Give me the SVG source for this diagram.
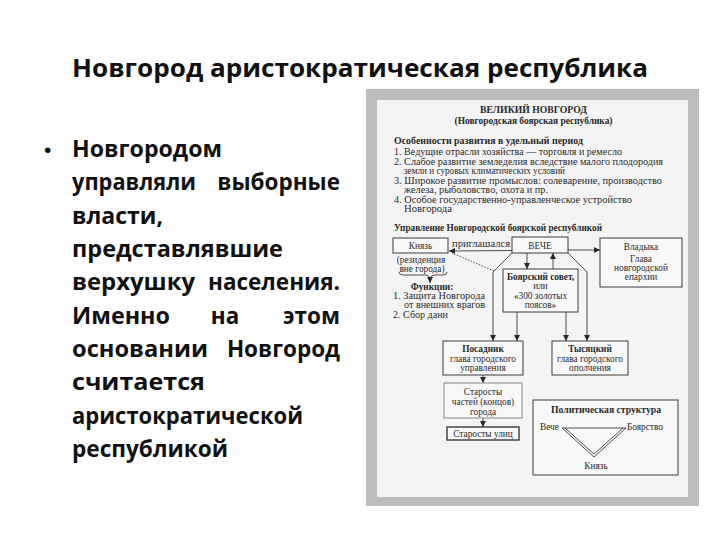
<svg xmlns="http://www.w3.org/2000/svg" width="720" height="540" viewBox="0 0 720 540">
<defs>
<style>
.t{font-family:"Open Sans","Liberation Sans",sans-serif;font-weight:700;fill:#111}
.s{font-family:"Liberation Serif","Times New Roman",serif;font-size:9.3px;fill:#2a2a2a}
.b{font-weight:700}
.m{text-anchor:middle}
.box{fill:#f8f8f8;stroke:#3a3a3a;stroke-width:1}
.ln{fill:none;stroke:#3a3a3a;stroke-width:0.9}
.arr{marker-end:url(#ah)}
</style>
<marker id="ah" markerUnits="userSpaceOnUse" markerWidth="6" markerHeight="6" refX="6" refY="3" orient="auto">
<path d="M0,0 L6,3 L0,6 z" fill="#2a2a2a"/>
</marker>
</defs>
<rect width="720" height="540" fill="#ffffff"/>

<text class="t m" x="360" y="77" font-size="25" textLength="576" lengthAdjust="spacingAndGlyphs">Новгород аристократическая республика</text>

<g id="bullet-text" class="t" font-size="22.5">
<text x="44" y="157" font-family="Liberation Sans" font-weight="400" font-size="21">•</text>
<text x="72" y="157" textLength="150" lengthAdjust="spacingAndGlyphs">Новгородом</text>
<text x="72" y="190" textLength="124" lengthAdjust="spacingAndGlyphs">управляли</text><text x="340" y="190" text-anchor="end">выборные</text>
<text x="72" y="224" textLength="91" lengthAdjust="spacingAndGlyphs">власти,</text>
<text x="72" y="257" textLength="211" lengthAdjust="spacingAndGlyphs">представлявшие</text>
<text x="72" y="290" textLength="123" lengthAdjust="spacingAndGlyphs">верхушку</text><text x="340" y="290" text-anchor="end">населения.</text>
<text x="72" y="324" textLength="98" lengthAdjust="spacingAndGlyphs">Именно</text><text x="225" y="324" text-anchor="middle">на</text><text x="340" y="324" text-anchor="end">этом</text>
<text x="72" y="357" textLength="136" lengthAdjust="spacingAndGlyphs">основании</text><text x="340" y="357" text-anchor="end">Новгород</text>
<text x="72" y="390" textLength="133" lengthAdjust="spacingAndGlyphs">считается</text>
<text x="72" y="424" textLength="231" lengthAdjust="spacingAndGlyphs">аристократической</text>
<text x="72" y="457" textLength="156" lengthAdjust="spacingAndGlyphs">республикой</text>
</g>

<g id="panel">
<rect x="366" y="89" width="333" height="417" fill="#bdbdbd"/>
<rect x="377" y="100" width="311" height="397" fill="#f4f4f4"/>
</g>

<g id="header">
<text class="s b m" x="533.5" y="113" textLength="107" lengthAdjust="spacingAndGlyphs">ВЕЛИКИЙ НОВГОРОД</text>
<text class="s b m" x="533.5" y="124" textLength="158" lengthAdjust="spacingAndGlyphs">(Новгородская боярская республика)</text>
<text class="s b" x="394" y="144" textLength="189" lengthAdjust="spacingAndGlyphs">Особенности развития в удельный период</text>
<text class="s" x="394" y="155" textLength="228" lengthAdjust="spacingAndGlyphs">1. Ведущие отрасли хозяйства — торговля и ремесло</text>
<text class="s" x="394" y="164.5" textLength="269" lengthAdjust="spacingAndGlyphs">2. Слабое развитие земледелия вследствие малого плодородия</text>
<text class="s" x="404" y="174" textLength="161" lengthAdjust="spacingAndGlyphs">земли и суровых климатических условий</text>
<text class="s" x="394" y="183.5" textLength="268" lengthAdjust="spacingAndGlyphs">3. Широкое развитие промыслов: солеварение, производство</text>
<text class="s" x="404" y="193" textLength="144" lengthAdjust="spacingAndGlyphs">железа, рыболовство, охота и пр.</text>
<text class="s" x="394" y="202.5" textLength="238" lengthAdjust="spacingAndGlyphs">4. Особое государственно-управленческое устройство</text>
<text class="s" x="404" y="212" textLength="48" lengthAdjust="spacingAndGlyphs">Новгорода</text>
<text class="s b" x="394" y="231" textLength="208" lengthAdjust="spacingAndGlyphs">Управление Новгородской боярской республикой</text>
</g>

<g id="connectors">
<path class="ln arr" d="M512,250.5 L449,251"/>
<text class="s m" x="481" y="247" font-size="10" textLength="58" lengthAdjust="spacingAndGlyphs">приглашался</text>
<path class="ln" d="M494,271 L452,253" stroke-dasharray="1.5,1.5"/>
<path class="ln arr" d="M568,250 L600,250"/>
<path class="ln arr" d="M512,253 L493,272 L493,341"/>
<path class="ln arr" d="M568,253 L587,272 L587,341"/>
<path class="ln arr" d="M527,253 L527,269"/>
<path class="ln arr" d="M553,269 L553,253"/>
<path class="ln arr" d="M517,312 L517,341"/>
<path class="ln arr" d="M566,312 L566,341"/>
<path class="ln arr" d="M483,375 L483,383"/>
<path class="ln arr" d="M483,418 L483,427"/>
<path class="ln" d="M399,272 q0,3 4,3 h22 q4,0 5,3 q1,-3 5,-3 h8 q4,0 4,-3"/>
<path class="ln arr" d="M430,278 L430,283"/>
</g>

<g id="knyaz">
<rect class="box" x="393" y="238" width="55" height="15"/>
<text class="s m" x="420.5" y="249" font-size="10.5">Князь</text>
<text class="s m" x="421" y="263">(резиденция</text>
<text class="s m" x="422" y="272">вне города)</text>
<text class="s b m" x="432" y="290">Функции:</text>
<text class="s" x="393" y="299" textLength="92" lengthAdjust="spacingAndGlyphs">1. Защита Новгорода</text>
<text class="s" x="404" y="308" textLength="81" lengthAdjust="spacingAndGlyphs">от внешних врагов</text>
<text class="s" x="393" y="318" textLength="55" lengthAdjust="spacingAndGlyphs">2. Сбор дани</text>
</g>

<g id="veche">
<rect class="box" x="512" y="237" width="56" height="16"/>
<text class="s m" x="540" y="249" font-size="11">ВЕЧЕ</text>
</g>

<g id="vladyka">
<rect class="box" x="600" y="238" width="82" height="49"/>
<text class="s m" x="641" y="250" font-size="10.5">Владыка</text>
<text class="s m" x="641" y="262">Глава</text>
<text class="s m" x="641" y="271">новгородской</text>
<text class="s m" x="641" y="280">епархии</text>
</g>

<g id="boyar-council">
<rect class="box" x="503" y="269" width="75" height="43"/>
<text class="s b m" x="540.5" y="280">Боярский совет,</text>
<text class="s m" x="540.5" y="289">или</text>
<text class="s m" x="540.5" y="299">«300 золотых</text>
<text class="s m" x="540.5" y="308">поясов»</text>
</g>

<g id="posadnik">
<rect class="box" x="443" y="341" width="80" height="34"/>
<text class="s b m" x="483" y="352">Посадник</text>
<text class="s m" x="483" y="362">глава городского</text>
<text class="s m" x="483" y="371">управления</text>
</g>

<g id="tysyatsky">
<rect class="box" x="552" y="341" width="76" height="34"/>
<text class="s b m" x="590" y="352">Тысяцкий</text>
<text class="s m" x="590" y="362">глава городского</text>
<text class="s m" x="590" y="371">ополчения</text>
</g>

<g id="starosty-kontsov">
<rect class="box" x="444" y="383" width="78" height="35" style="stroke:#888"/>
<text class="s m" x="483" y="395">Старосты</text>
<text class="s m" x="483" y="405">частей (концов)</text>
<text class="s m" x="483" y="415">города</text>
</g>

<g id="starosty-ulits">
<rect class="box" x="447" y="427" width="72" height="13" style="stroke-width:1.4"/>
<text class="s m" x="483" y="437">Старосты улиц</text>
</g>

<g id="political-structure">
<rect class="box" x="533" y="400" width="145" height="75"/>
<text class="s b m" x="606" y="413" textLength="110" lengthAdjust="spacingAndGlyphs">Политическая структура</text>
<text class="s" x="540" y="430">Вече</text>
<text class="s" x="627" y="430">Боярство</text>
<text class="s m" x="596" y="469">Князь</text>
<path class="ln" d="M562,428 L626,428" stroke="#555"/>
<path class="ln" d="M562,428 L594,457 L626,428" stroke="#777" stroke-width="0.7"/>
<path class="ln" d="M565,428 L594,454 L623,428" stroke="#999" stroke-width="0.6"/>
</g>
</svg>
